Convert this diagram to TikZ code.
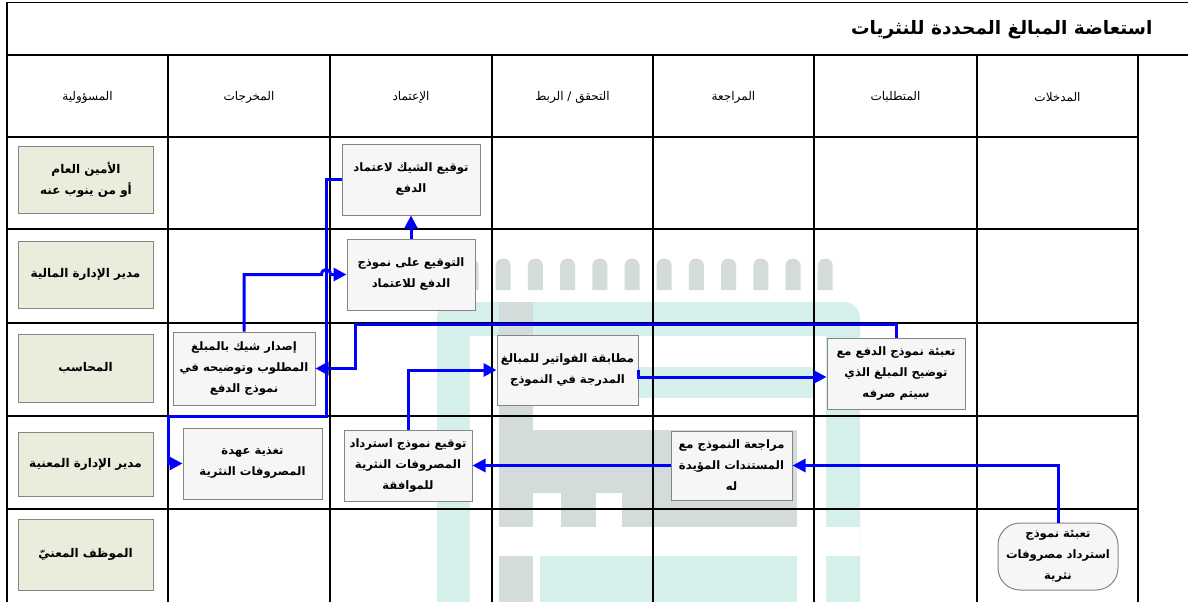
\documentclass[tikz,border=0pt]{standalone}
\usepackage{fontspec}
\usetikzlibrary{arrows.meta}
\newfontfamily\arabicfont[Script=Arabic]{DejaVu Sans}
\TeXXeTstate=1
\newcommand{\ar}[1]{\beginR #1\endR}
\definecolor{wmteal}{HTML}{D5EFEB}
\definecolor{wmgray}{HTML}{D3DBDB}
\definecolor{respfill}{HTML}{EAEDDC}
\definecolor{procfill}{HTML}{F6F6F6}
\definecolor{boxline}{HTML}{858585}
\definecolor{flowblue}{HTML}{0000FF}
\begin{document}
\begin{tikzpicture}[x=1pt,y=-1pt,
  gridline/.style={line width=1.4pt, black},
  resp/.style={draw=boxline, line width=1pt, fill=respfill, minimum width=135pt, align=center, inner sep=0pt,
    font=\arabicfont\bfseries\fontsize{12}{21}\selectfont},
  proc/.style={draw=boxline, line width=1pt, fill=procfill, align=center, inner sep=0pt,
    font=\arabicfont\bfseries\fontsize{11.6}{21}\selectfont},
  startbox/.style={proc, rounded corners=22pt},
  hdr/.style={font=\arabicfont\fontsize{12}{14}\selectfont},
  flow/.style={draw=flowblue, line width=3pt, -{Triangle[length=13pt,width=13pt]}},
]
\useasboundingbox (0,0) rectangle (1188,602);
\fill[white] (0,0) rectangle (1188,602);
\clip (0,0) rectangle (1188,602);

% ---- watermark (faint logo) ----
\fill[wmteal, rounded corners=16pt] (437,302) rectangle (860,640);
\fill[white] (470,336) rectangle (826,640);
\fill[wmteal] (533,367) rectangle (815,398);
\fill[white] (826,527) rectangle (860,556);
\fill[wmteal] (540,556) rectangle (797,640);
\fill[wmgray] (499,302) rectangle (533,527);
\fill[wmgray] (499,430) rectangle (797,493);
\fill[wmgray] (561,493) rectangle (596,527);
\fill[wmgray] (622,493) rectangle (797,527);
\fill[wmgray] (499,556) rectangle (533,640);
\foreach \k in {0,...,11}{
  \pgfmathsetmacro{\cx}{471+32.2*\k}
  \fill[wmgray] (\cx-7.5,290) -- (\cx-7.5,266) .. controls (\cx-7.5,256) and (\cx+7.5,256) .. (\cx+7.5,266) -- (\cx+7.5,290) -- cycle;
}

% ---- grid ----
\draw[gridline] (1188,2.5) -- (7,2.5) -- (7,602);
\draw[gridline] (7,55) -- (1188,55);
\foreach \yy in {137,229,323,416,509}{\draw[gridline] (7,\yy) -- (1138,\yy);}
\foreach \xx in {168,330,492,653,814,977,1138}{\draw[gridline] (\xx,55) -- (\xx,602);}

% ---- title and headers ----
\node[anchor=east, font=\arabicfont\bfseries\fontsize{18.5}{22}\selectfont] (title) at (1156,30) {\ar{استعاضة المبالغ المحددة للنثريات}};
\node[hdr] (h1) at (87.5,97) {\ar{المسؤولية}};
\node[hdr] (h2) at (249,97) {\ar{المخرجات}};
\node[hdr] (h3) at (411,97) {\ar{الإعتماد}};
\node[hdr] (h4) at (572.5,97) {\ar{التحقق / الربط}};
\node[hdr] (h5) at (733.5,97) {\ar{المراجعة}};
\node[hdr] (h6) at (895.5,97) {\ar{المتطلبات}};
\node[hdr] (h7) at (1057.5,97) {\ar{المدخلات}};

% ---- responsibility column ----
\node[resp, minimum height=67pt] (r1) at (86,179.5) {\ar{الأمين العام}\\\ar{أو من ينوب عنه}};
\node[resp, minimum height=67pt] (r2) at (85.5,274.5) {\ar{مدير الإدارة المالية}};
\node[resp, minimum height=68pt] (r3) at (85.5,368) {\ar{المحاسب}};
\node[resp, minimum height=64pt] (r4) at (85.5,464) {\ar{مدير الإدارة المعنية}};
\node[resp, minimum height=71pt] (r5) at (85.5,554.5) {\ar{الموظف المعنيّ}};

% ---- process boxes ----
\node[proc, minimum width=138pt, minimum height=71pt] (A) at (411,179.5) {\ar{توقيع الشيك لاعتماد}\\\ar{الدفع}};
\node[proc, minimum width=128pt, minimum height=71pt] (B) at (411,274.5) {\ar{التوقيع على نموذج}\\\ar{الدفع للاعتماد}};
\node[proc, minimum width=142pt, minimum height=73pt] (C) at (244,368.5) {\ar{إصدار شيك بالمبلغ}\\\ar{المطلوب وتوضيحه في}\\\ar{نموذج الدفع}};
\node[proc, minimum width=139pt, minimum height=71pt] (D) at (252.5,463.5) {\ar{تغذية عهدة}\\\ar{المصروفات النثرية}};
\node[proc, minimum width=128pt, minimum height=71pt] (E) at (408,465.5) {\ar{توقيع نموذج استرداد}\\\ar{المصروفات النثرية}\\\ar{للموافقة}};
\node[proc, minimum width=141pt, minimum height=70pt] (F) at (567.5,370) {\ar{مطابقة الفواتير للمبالغ}\\\ar{المدرجة في النموذج}};
\node[proc, minimum width=138pt, minimum height=71pt] (G) at (896,373.5) {\ar{تعبئة نموذج الدفع مع}\\\ar{توضيح المبلغ الذي}\\\ar{سيتم صرفه}};
\node[proc, minimum width=121pt, minimum height=69pt] (H) at (731.5,465.5) {\ar{مراجعة النموذج مع}\\\ar{المستندات المؤيدة}\\\ar{له}};
\node[startbox, minimum width=120pt, minimum height=67pt] (I) at (1058,556.5) {\ar{تعبئة نموذج}\\\ar{استرداد مصروفات}\\\ar{نثرية}};

% ---- connectors ----
\coordinate (g1) at (355,324);
\coordinate (j1) at (321.5,274.5);
\coordinate (j2) at (330.5,274.5);
\coordinate (a1) at (326,416);
\coordinate (a2) at (168,416);

\draw[flow] (I.north) |- (H.east);
\draw[flow] (H.west) -- (E.east);
\draw[flow] (E.north) |- (F.west);
\draw[flow] (F.east) -- ++(0,7) coordinate (f2) -- (f2 -| G.west);
\draw[flow] (G.north) |- (g1) |- (C.east);
\draw[flow] (A.west) -| (a1) -- (a2) |- (D.west);
\draw[flow] (C.north) |- (j1) .. controls (321.5,268) and (330.5,268) .. (j2) -- (B.west);
\draw[flow] (B.north) -- (A.south);
\end{tikzpicture}
\end{document}
